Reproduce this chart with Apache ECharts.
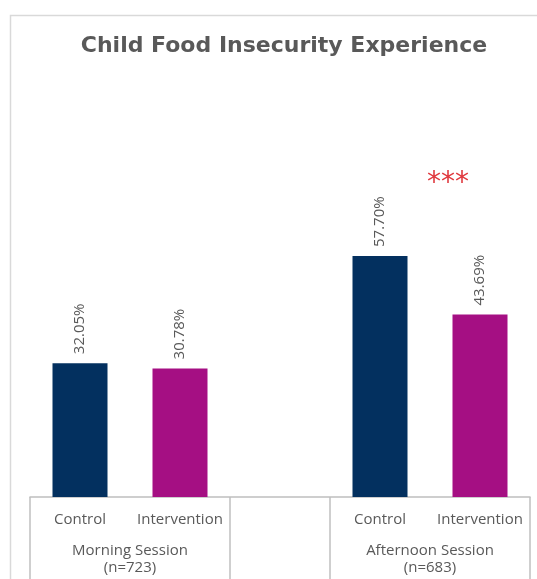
<!DOCTYPE html>
<html><head><meta charset="utf-8">
<script src="https://cdn.jsdelivr.net/npm/echarts@6/dist/echarts.min.js"></script>
<style>html,body{margin:0;padding:0;background:#fff}#c{width:537px;height:579px}</style>
</head><body><div id="c"></div>
<script>
const titleText = 'Child Food Insecurity Experience';
const categories = ['Control', 'Intervention', '', 'Control', 'Intervention'];
const values = [32.05, 30.78, null, 57.70, 43.69];
const barColors = ['#03305F', '#A50F83', '#ffffff', '#03305F', '#A50F83'];
const groupLabels = ['Morning Session\n(n=723)', 'Afternoon Session\n(n=683)'];
const groupRanges = [[0, 1], [3, 4]];
const significance = '***';
const sigIndex = 4;
const sigValue = 75;

const FONT = 'Open Sans';
const GRAY = '#595959';
const LINE = '#BFBFBF';

const chart = echarts.init(document.getElementById('c'), null, {renderer: 'canvas'});
chart.setOption({
  animation: false,
  backgroundColor: '#fff',
  title: {
    text: titleText, left: 279, textAlign: 'center', top: 30,
    textStyle: {fontFamily: 'DejaVu Sans', fontWeight: 'bold', fontSize: 22, color: GRAY}
  },
  grid: {left: 30, right: 7, top: 79.3, bottom: 82},
  xAxis: {
    type: 'category', data: categories,
    axisLine: {show: true, lineStyle: {color: LINE, width: 1.5}},
    axisTick: {show: false},
    axisLabel: {interval: 0, margin: 15, fontFamily: FONT, fontSize: 15, color: GRAY}
  },
  yAxis: {type: 'value', min: 0, max: 100, show: false, splitLine: {show: false}},
  series: [{
    type: 'bar', barWidth: 55,
    data: values.map((v, i) => ({value: v, itemStyle: {color: barColors[i]}})),
    label: {
      show: true, position: 'top', rotate: 90, align: 'left', verticalAlign: 'middle',
      distance: 9, fontFamily: FONT, fontSize: 15, color: GRAY,
      formatter: p => p.value == null ? '' : p.value.toFixed(2) + '%'
    }
  }]
});

function decorate() {
  const cx = i => chart.convertToPixel({xAxisIndex: 0}, i);
  const step = cx(1) - cx(0);
  const y0 = chart.convertToPixel({yAxisIndex: 0}, 0);
  const H = 579;
  const bounds = [cx(0) - step / 2, cx(1) + step / 2, cx(3) - step / 2, cx(4) + step / 2];
  const els = [];
  els.push({type: 'rect', shape: {x: 10.5, y: 15.5, width: 600, height: 700},
    style: {fill: 'none', stroke: '#D9D9D9', lineWidth: 1.5}, silent: true, z: -1});
  bounds.forEach(b => els.push({type: 'line', shape: {x1: b, y1: y0, x2: b, y2: H + 5},
    style: {stroke: LINE, lineWidth: 1.5}}));
  groupRanges.forEach((r, k) => {
    const mid = (cx(r[0]) + cx(r[1])) / 2;
    els.push({type: 'text', x: mid, y: y0 + 45, style: {
      text: groupLabels[k], align: 'center', verticalAlign: 'top',
      fontFamily: FONT, fontSize: 15, fill: GRAY, lineHeight: 17}});
  });
  const sx = cx(sigIndex) - step * 0.32;
  const sy = chart.convertToPixel({yAxisIndex: 0}, sigValue);
  els.push({type: 'text', x: sx, y: sy, style: {
    text: significance, align: 'center', verticalAlign: 'middle',
    fontFamily: 'DejaVu Sans', fontSize: 28, fill: '#E0393E'}});
  chart.setOption({graphic: els});
}
decorate();
</script></body></html>
